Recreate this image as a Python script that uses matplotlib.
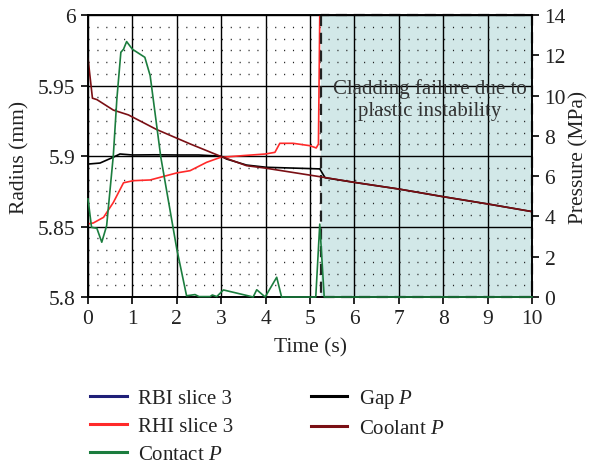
import numpy as np
import matplotlib.pyplot as plt
from matplotlib.ticker import MultipleLocator
from matplotlib.lines import Line2D

plt.rcParams['font.family'] = ['Liberation Serif', 'DejaVu Serif']
plt.rcParams['mathtext.fontset'] = 'custom'
plt.rcParams['mathtext.it'] = 'Liberation Serif:italic'
plt.rcParams['mathtext.rm'] = 'Liberation Serif'

# Radius traces (mm), left axis
t_rbi = [0.0, 5.25]
rbi = [5.75, 5.75]

t_rhi = [0.0, 0.12, 0.35, 0.57, 0.8, 1.02, 1.4, 2.0, 2.3, 2.67, 2.98, 3.5, 3.99,
         4.21, 4.32, 4.62, 5.0, 5.14, 5.19, 5.22]
rhi = [5.8518, 5.8525, 5.8565, 5.867, 5.881, 5.8825, 5.883, 5.888, 5.8896, 5.8955,
       5.899, 5.9003, 5.9014, 5.9026, 5.909, 5.909, 5.9073, 5.9057, 5.9085, 6.0]

# Pressure traces (MPa), right axis
t_contact = [0.0, 0.08, 0.2, 0.31, 0.42, 0.57, 0.65, 0.74, 0.8, 0.87, 1.0, 1.28, 1.4,
             1.64, 2.0, 2.22, 2.41, 2.5, 2.75, 2.8, 2.9, 3.05, 3.72, 3.8, 3.99, 4.25,
             4.36, 5.13, 5.22, 5.32, 10.0]
contact = [4.87, 3.46, 3.41, 2.72, 3.54, 7.02, 9.83, 12.15, 12.3, 12.68, 12.3, 11.9,
           10.99, 6.94, 2.38, 0.06, 0.12, 0.02, 0.02, 0.1, 0.02, 0.35, 0.0, 0.36, 0.0,
           0.98, 0.0, 0.0, 3.62, 0.0, 0.0]

t_gap = [0.0, 0.27, 0.57, 0.72, 1.0, 1.5, 2.0, 2.5, 3.0, 3.12, 3.57, 4.02, 5.22, 5.34,
         6.0, 7.0, 8.0, 9.0, 10.0]
gap = [6.6, 6.65, 6.94, 7.1, 7.05, 7.06, 7.05, 7.05, 6.99, 6.85, 6.55, 6.44, 6.36, 5.92,
       5.69, 5.36, 4.98, 4.62, 4.24]

t_cool = [0.0, 0.1, 0.2, 0.57, 0.91, 1.55, 2.3, 2.98, 3.57, 3.99, 5.23, 6.0, 7.0, 8.0,
          9.0, 10.0]
coolant = [11.85, 9.87, 9.8, 9.28, 9.04, 8.31, 7.6, 6.99, 6.52, 6.4, 5.97, 5.69, 5.36,
           4.98, 4.62, 4.24]

t_fail = 5.25

fig = plt.figure(figsize=(5.92, 4.64), dpi=100)
ax = fig.add_axes([88 / 592, 1 - 298 / 464, 444 / 592, 282 / 464])
ax2 = ax.twinx()

ax.set_xlim(0, 10)
ax.set_ylim(5.8, 6.0)
ax2.set_ylim(0, 14)

# failure region
ax.axvspan(t_fail, 10, color='#d2e8e8', zorder=0)

# dotted background lattice and solid major grid
ax.yaxis.set_minor_locator(MultipleLocator(0.05 / 6))
ax.tick_params(axis='y', which='minor', length=0)
ax.grid(True, which='minor', axis='y', color='#222222', linewidth=1.0,
        linestyle=(0, (0.8, 5.6)), zorder=0.5)
ax.grid(True, which='major', color='black', linewidth=1.0, zorder=0.6)
ax.set_axisbelow(True)

ax.plot(t_rbi, rbi, color='#1f1f78', lw=1.2)
ax.plot(t_rhi, rhi, color='#ff2a2a', lw=1.2, zorder=3)

ax2.plot(t_gap, gap, color='black', lw=1.2)
ax2.plot(t_cool, coolant, color='#7a0f14', lw=1.2)

# dashed outline of the failure region
ax2.plot([t_fail, t_fail, 10, 10, t_fail], [14, 0, 0, 14, 14], color='#222222',
         lw=1.6, ls=(0, (5, 3)), zorder=1.5, clip_on=False)

ax2.plot(t_contact, contact, color='#1b7d3e', lw=1.2, clip_on=False, zorder=3)

ax.text(7.7, 5.9404, 'Cladding failure due to\nplastic instability', ha='center',
        va='center', fontsize=15, color='#333333', linespacing=1.25, zorder=4)

ax.set_xticks(range(0, 11))
ax.set_yticks([5.8, 5.85, 5.9, 5.95, 6.0])
ax.set_yticklabels(['5.8', '5.85', '5.9', '5.95', '6'])
ax2.set_yticks(range(0, 15, 2))
for a in (ax, ax2):
    a.tick_params(which='major', direction='out', length=5, width=1.2, labelsize=15.5,
                  colors='black', labelcolor='#222222', pad=4)
    for s in a.spines.values():
        s.set_linewidth(1.2)

ax.set_xlabel('Time (s)', fontsize=15.5, color='#222222', labelpad=6)
ax.set_ylabel('Radius (mm)', fontsize=15.5, color='#222222', labelpad=6)
ax2.set_ylabel('Pressure (MPa)', fontsize=15.5, color='#222222', labelpad=2)

handles = [Line2D([], [], color='#1f1f78', lw=2.2),
           Line2D([], [], color='#ff2a2a', lw=2.2),
           Line2D([], [], color='#1b7d3e', lw=2.2),
           Line2D([], [], color='black', lw=2.2),
           Line2D([], [], color='#7a0f14', lw=2.2)]
labels = ['RBI slice 3', 'RHI slice 3', 'Contact $P$', 'Gap $P$', 'Coolant $P$']
fig.legend(handles, labels, loc='upper left', bbox_to_anchor=(80 / 592, 1 - 378 / 464),
           ncol=2, frameon=False, fontsize=15, handlelength=1.75, handletextpad=0.55,
           columnspacing=3.7, labelspacing=0.4, borderpad=0, labelcolor='#222222')

fig.savefig('out.png', dpi=100)
